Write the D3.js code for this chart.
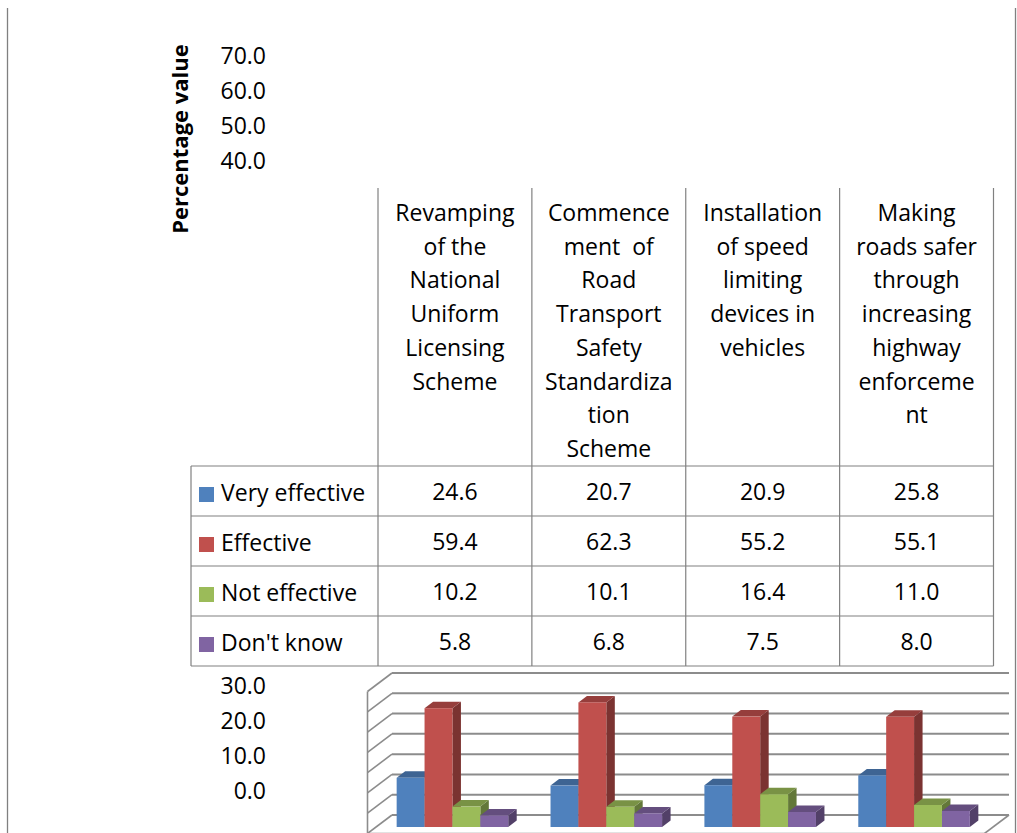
<!DOCTYPE html>
<html>
<head>
<meta charset="utf-8">
<script src="https://cdn.jsdelivr.net/npm/d3@7"></script>
<style>
  body { margin: 0; background: #fff; }
  svg { display: block; font-family: "Open Sans", sans-serif; }
</style>
</head>
<body>
<svg id="chart"></svg>
<script>
// category labels, wrapped as in the original table header
const categories = [
    ["Revamping", "of the", "National", "Uniform", "Licensing", "Scheme"],
    ["Commence", "ment  of", "Road", "Transport", "Safety", "Standardiza", "tion", "Scheme"],
    ["Installation", "of speed", "limiting", "devices in", "vehicles"],
    ["Making", "roads safer", "through", "increasing", "highway", "enforceme", "nt"]
];
const seriesNames = ["Very effective", "Effective", "Not effective", "Don't know"];
const seriesColors = ["#4f81bd", "#c0504d", "#9bbb59", "#8064a2"];

const veryEffective = [24.6, 20.7, 20.9, 25.8];
const effective = [59.4, 62.3, 55.2, 55.1];
const notEffective = [10.2, 10.1, 16.4, 11.0];
const dontKnow = [5.8, 6.8, 7.5, 8.0];

const upperTicks = [40, 50, 60, 70];
const lowerTicks = [0, 10, 20, 30];
const gridTicks = [0, 10, 20, 30, 40, 50, 60, 70];

const values = [veryEffective, effective, notEffective, dontKnow];

const width = 1017, height = 833;
const svg = d3.select("#chart").attr("width", width).attr("height", height);

const lineColor = "#808080";
const gridColor = "#8c8c8c";

// outer chart border (left and right only visible)
svg.append("line").attr("x1", 7.5).attr("x2", 7.5).attr("y1", 8).attr("y2", height)
    .attr("stroke", lineColor).attr("stroke-width", 1.3);
svg.append("line").attr("x1", 1015.5).attr("x2", 1015.5).attr("y1", 8).attr("y2", height)
    .attr("stroke", lineColor).attr("stroke-width", 1.3);

// y axis title
svg.append("text")
    .attr("transform", "translate(188,139) rotate(-90)")
    .attr("text-anchor", "middle")
    .style("font-size", "22px")
    .style("font-weight", "bold")
    .text("Percentage value");

// tick labels, split in two pieces around the data table
const yUpper = d3.scaleLinear().domain([40, 70]).range([160.3, 55.3]);
const yLower = d3.scaleLinear().domain([0, 30]).range([790, 685]);

function tickAxis(scale, ticks) {
    return d3.axisLeft(scale)
        .tickValues(ticks)
        .tickFormat(d3.format(".1f"))
        .tickSize(0)
        .tickPadding(0);
}

[[yUpper, upperTicks], [yLower, lowerTicks]].forEach(([s, t]) => {
    const g = svg.append("g")
        .attr("transform", "translate(266,0)")
        .call(tickAxis(s, t));
    g.select(".domain").remove();
    g.selectAll("text")
        .attr("font-family", "Open Sans")
        .style("font-size", "23px")
        .attr("fill", "#000")
        .attr("dy", "0.36em");
});

// ---------- 3D column plot ----------
const wallDx = 24.5, wallDy = 18.5;
const yBack = d3.scaleLinear().domain([0, 70]).range([815, 673]);
const backLeft = 392, backRight = 1009;

const walls = svg.append("g");

walls.selectAll(".grid")
    .data(gridTicks)
    .enter()
    .append("line")
    .attr("x1", backLeft)
    .attr("x2", backRight)
    .attr("y1", d => yBack(d))
    .attr("y2", d => yBack(d))
    .attr("stroke", gridColor)
    .attr("stroke-width", 2);

walls.selectAll(".diag")
    .data(gridTicks)
    .enter()
    .append("line")
    .attr("x1", backLeft)
    .attr("x2", backLeft - wallDx)
    .attr("y1", d => yBack(d))
    .attr("y2", d => yBack(d) + wallDy)
    .attr("stroke", gridColor)
    .attr("stroke-width", 1.6);

// front edge of side wall
walls.append("line")
    .attr("x1", backLeft - wallDx).attr("x2", backLeft - wallDx)
    .attr("y1", yBack(70) + wallDy).attr("y2", yBack(0) + wallDy + 2)
    .attr("stroke", gridColor).attr("stroke-width", 1.6);

// floor edges
walls.append("line")
    .attr("x1", backRight).attr("y1", yBack(0))
    .attr("x2", backRight - wallDx).attr("y2", yBack(0) + wallDy)
    .attr("stroke", gridColor).attr("stroke-width", 1.6);
walls.append("line")
    .attr("x1", backLeft - wallDx).attr("y1", yBack(0) + wallDy)
    .attr("x2", backRight - wallDx).attr("y2", yBack(0) + wallDy)
    .attr("stroke", gridColor).attr("stroke-width", 1.6);

// bars
const x0 = d3.scaleBand()
    .domain(d3.range(categories.length))
    .range([375.5, 991])
    .paddingInner(0.275)
    .paddingOuter(0.1375);
const x1 = d3.scaleBand()
    .domain(d3.range(seriesNames.length))
    .range([0, x0.bandwidth()]);
const yBar = d3.scaleLinear().domain([0, 70]).range([827, 687]);

const barDx = 8.5, barDy = -6.5;
const bars = [];
categories.forEach((c, ci) => {
    seriesNames.forEach((s, si) => {
        bars.push({ ci: ci, si: si, value: values[si][ci] });
    });
});

const barG = svg.append("g").selectAll("g")
    .data(bars)
    .enter()
    .append("g");

barG.each(function (d) {
    const g = d3.select(this);
    const x = x0(d.ci) + x1(d.si);
    const w = x1.bandwidth();
    const yt = yBar(d.value);
    const yb = yBar(0);
    const base = d3.color(seriesColors[d.si]);
    g.append("polygon")
        .attr("points", [[x + w, yt], [x + w + barDx, yt + barDy], [x + w + barDx, yb + barDy], [x + w, yb]].join(" "))
        .attr("fill", base.darker(1.25));
    g.append("polygon")
        .attr("points", [[x, yt], [x + barDx, yt + barDy], [x + w + barDx, yt + barDy], [x + w, yt]].join(" "))
        .attr("fill", base.darker(0.7));
    g.append("rect")
        .attr("x", x)
        .attr("y", yt)
        .attr("width", w)
        .attr("height", yb - yt)
        .attr("fill", base);
});

// ---------- data table ----------
const xTable = d3.scaleBand()
    .domain(d3.range(categories.length))
    .range([378, 993.5]);
const yRow = d3.scaleBand()
    .domain(d3.range(seriesNames.length))
    .range([466, 666]);
const tableLeft = 191, headerTop = 188;

const table = svg.append("g");

// horizontal row lines
table.selectAll(".hline")
    .data(d3.range(seriesNames.length + 1))
    .enter()
    .append("line")
    .attr("x1", tableLeft)
    .attr("x2", 993.5)
    .attr("y1", d => 466 + d * yRow.step())
    .attr("y2", d => 466 + d * yRow.step())
    .attr("stroke", lineColor)
    .attr("stroke-width", 1.2);

// vertical lines
table.append("line")
    .attr("x1", tableLeft).attr("x2", tableLeft)
    .attr("y1", 466).attr("y2", 666)
    .attr("stroke", lineColor).attr("stroke-width", 1.2);
table.selectAll(".vline")
    .data(d3.range(categories.length + 1))
    .enter()
    .append("line")
    .attr("x1", d => 378 + d * xTable.step())
    .attr("x2", d => 378 + d * xTable.step())
    .attr("y1", headerTop)
    .attr("y2", 666)
    .attr("stroke", lineColor)
    .attr("stroke-width", 1.2);

// header labels
const lineStep = 33.7;
table.selectAll(".head")
    .data(categories)
    .enter()
    .append("text")
    .attr("text-anchor", "middle")
    .style("font-size", "23px")
    .style("white-space", "pre")
    .attr("xml:space", "preserve")
    .each(function (lines, i) {
        d3.select(this).selectAll("tspan")
            .data(lines)
            .enter()
            .append("tspan")
            .attr("x", xTable(i) + xTable.bandwidth() / 2)
            .attr("y", (l, j) => 221 + j * lineStep)
            .text(l => l);
    });

// legend keys and names
seriesNames.forEach((s, si) => {
    const cy = yRow(si) + yRow.bandwidth() / 2;
    table.append("rect")
        .attr("x", 199)
        .attr("y", cy - 4)
        .attr("width", 15)
        .attr("height", 15)
        .attr("fill", seriesColors[si]);
    table.append("text")
        .attr("x", 221)
        .attr("y", cy + 9.5)
        .style("font-size", "23px")
        .text(s);
    values[si].forEach((v, ci) => {
        table.append("text")
            .attr("x", xTable(ci) + xTable.bandwidth() / 2)
            .attr("y", cy + 8.5)
            .attr("text-anchor", "middle")
            .style("font-size", "23px")
            .text(d3.format(".1f")(v));
    });
});
</script>
</body>
</html>
